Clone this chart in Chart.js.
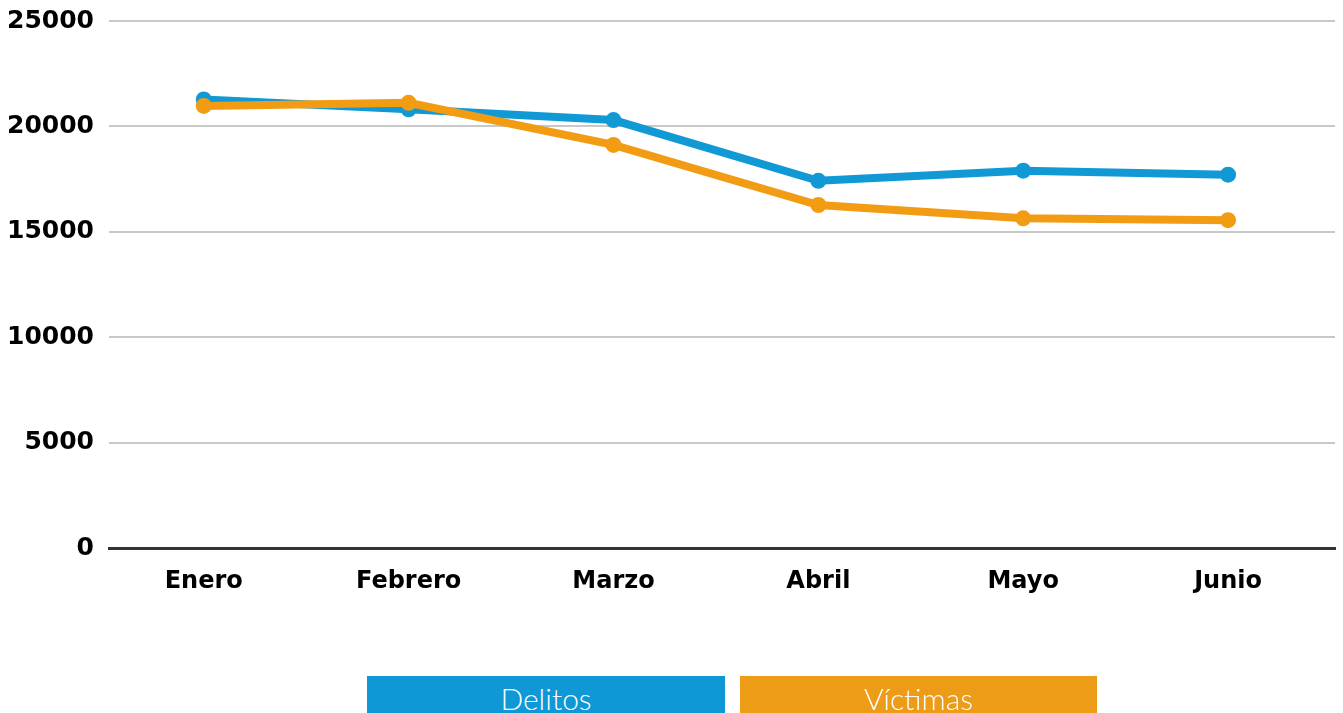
<!DOCTYPE html>
<html>
<head>
<meta charset="utf-8">
<script src="https://cdn.jsdelivr.net/npm/chart.js@4"></script>
<style>
    body { margin: 0; background: #fff; }
    #wrap { position: relative; width: 1343px; height: 713px; }
    #legend { position: absolute; left: 0; top: 676px; width: 1343px; height: 37px; }
    .item {
        position: absolute; top: 0; height: 37px; color: #fff;
        font-family: Lato, "Open Sans", sans-serif; font-weight: 300; font-size: 30px;
        line-height: 44px; text-align: center; overflow: hidden;
    }
</style>
</head>
<body>
<div id="wrap">
    <canvas id="chart" width="1343" height="713"></canvas>
    <div id="legend"></div>
</div>
<script>
const months = ["Enero", "Febrero", "Marzo", "Abril", "Mayo", "Junio"];
const delitos = [21280, 20810, 20300, 17420, 17900, 17710];
const victimas = [20970, 21120, 19120, 16270, 15640, 15550];
const yTicks = [0, 5000, 10000, 15000, 20000, 25000];

const blue = "#1199d6";
const orange = "#f29c14";

/* ================= CHART ================= */
const ctx = document.getElementById("chart").getContext("2d");
const chart = new Chart(ctx, {
    type: "line",
    data: {
        datasets: [{
            label: "Delitos",
            data: delitos.map((v, i) => ({ x: i, y: v })),
            borderColor: blue,
            backgroundColor: blue,
            legendColor: "#0e98d5",
            borderWidth: 8,
            pointRadius: 8,
            pointBorderWidth: 0,
            tension: 0,
            order: 1
        }, {
            label: "Víctimas",
            data: victimas.map((v, i) => ({ x: i, y: v })),
            borderColor: orange,
            backgroundColor: orange,
            legendColor: "#ed9c17",
            borderWidth: 8,
            pointRadius: 8,
            pointBorderWidth: 0,
            tension: 0,
            order: 0
        }]
    },
    options: {
        responsive: false,
        animation: false,
        layout: { padding: { top: 21, right: 3, bottom: 105, left: 0 } },
        plugins: { legend: { display: false }, tooltip: { enabled: false } },
        scales: {
            x: {
                type: "linear",
                min: -0.4626,
                max: 5.522,
                afterBuildTicks: s => { s.ticks = months.map((m, i) => ({ value: i })); },
                afterFit: s => { s.height = 60; s.paddingLeft = 0; s.paddingRight = 0; },
                grid: { display: false, drawTicks: false },
                border: { display: true, color: "#333", width: 3 },
                ticks: {
                    callback: v => months[v],
                    color: "#000",
                    padding: 19,
                    maxRotation: 0,
                    font: { family: "DejaVu Sans", weight: "bold", size: 24 }
                }
            },
            y: {
                min: 0,
                max: 25000,
                afterBuildTicks: s => { s.ticks = yTicks.map(v => ({ value: v })); },
                afterFit: s => { s.width = 109; s.paddingTop = 0; s.paddingBottom = 0; },
                grid: { color: "#c8c8c8", lineWidth: 2, drawTicks: false },
                border: { display: false },
                ticks: {
                    callback: v => String(v),
                    color: "#000",
                    padding: 15,
                    font: { family: "DejaVu Sans", weight: "bold", size: 25 }
                }
            }
        }
    }
});

/* ================= LEGEND ================= */
const legend = document.getElementById("legend");
const boxes = [[367, 358], [740, 357]];
chart.data.datasets.forEach((ds, i) => {
    const div = document.createElement("div");
    div.className = "item";
    div.style.left = boxes[i][0] + "px";
    div.style.width = boxes[i][1] + "px";
    div.style.background = ds.legendColor;
    div.textContent = ds.label;
    legend.appendChild(div);
});
</script>
</body>
</html>
